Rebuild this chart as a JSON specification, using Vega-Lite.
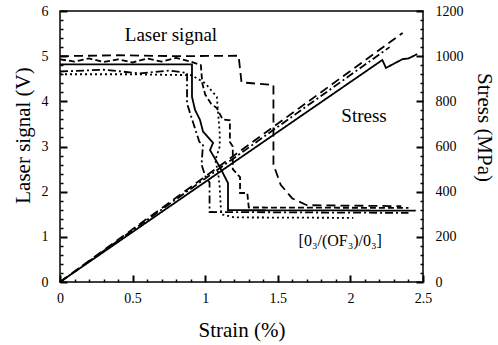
{
  "$schema": "https://vega.github.io/schema/vega-lite/v6.json",
  "width": 363,
  "height": 271,
  "autosize": "none",
  "padding": {"left": 60, "top": 11, "right": 75, "bottom": 63},
  "background": "white",
  "config": {
    "view": {"stroke": "black", "strokeWidth": 1.5},
    "font": "Liberation Serif",
    "axis": {"grid": false, "domain": false, "ticks": true, "tickColor": "black", "tickOpacity": 1, "tickWidth": 1.3, "labelColor": "black", "titleColor": "black", "labelFont": "Liberation Serif", "titleFont": "Liberation Serif", "labelFontSize": 14, "titleFontSize": 21, "titleFontWeight": "normal", "labelOverlap": false, "labelBound": false, "labelFlush": false, "zindex": 2}
  },
  "datasets": {
    "d": [
      {"k":"L","s":"A","st":"dash","i":0,"x":0,"y":5.0},
      {"k":"L","s":"A","st":"dash","i":1,"x":0.4,"y":5.02},
      {"k":"L","s":"A","st":"dash","i":2,"x":0.8,"y":5.0},
      {"k":"L","s":"A","st":"dash","i":3,"x":1.23,"y":5.01},
      {"k":"L","s":"A","st":"dash","i":4,"x":1.25,"y":4.42},
      {"k":"L","s":"A","st":"dash","i":5,"x":1.47,"y":4.36},
      {"k":"L","s":"A","st":"dash","i":6,"x":1.47,"y":2.6},
      {"k":"L","s":"A","st":"dash","i":7,"x":1.52,"y":2.15},
      {"k":"L","s":"A","st":"dash","i":8,"x":1.6,"y":1.85},
      {"k":"L","s":"A","st":"dash","i":9,"x":1.7,"y":1.7},
      {"k":"L","s":"A","st":"dash","i":10,"x":2.35,"y":1.68},

      {"k":"L","s":"B","st":"wavy","i":0,"x":0,"y":4.93},
      {"k":"L","s":"B","st":"wavy","i":1,"x":0.1,"y":4.88},
      {"k":"L","s":"B","st":"wavy","i":2,"x":0.2,"y":4.95},
      {"k":"L","s":"B","st":"wavy","i":3,"x":0.3,"y":4.87},
      {"k":"L","s":"B","st":"wavy","i":4,"x":0.4,"y":4.93},
      {"k":"L","s":"B","st":"wavy","i":5,"x":0.5,"y":4.86},
      {"k":"L","s":"B","st":"wavy","i":6,"x":0.6,"y":4.95},
      {"k":"L","s":"B","st":"wavy","i":7,"x":0.7,"y":4.88},
      {"k":"L","s":"B","st":"wavy","i":8,"x":0.8,"y":4.96},
      {"k":"L","s":"B","st":"wavy","i":9,"x":0.9,"y":4.88},
      {"k":"L","s":"B","st":"wavy","i":10,"x":0.97,"y":4.8},
      {"k":"L","s":"B","st":"wavy","i":11,"x":0.98,"y":4.4},
      {"k":"L","s":"B","st":"wavy","i":12,"x":1.0,"y":4.15},
      {"k":"L","s":"B","st":"wavy","i":13,"x":1.04,"y":3.95},
      {"k":"L","s":"B","st":"wavy","i":14,"x":1.08,"y":3.85},
      {"k":"L","s":"B","st":"wavy","i":15,"x":1.12,"y":3.6},
      {"k":"L","s":"B","st":"wavy","i":16,"x":1.17,"y":3.58},
      {"k":"L","s":"B","st":"wavy","i":17,"x":1.17,"y":3.1},
      {"k":"L","s":"B","st":"wavy","i":18,"x":1.19,"y":3.0},
      {"k":"L","s":"B","st":"wavy","i":19,"x":1.19,"y":2.5},
      {"k":"L","s":"B","st":"wavy","i":20,"x":1.24,"y":2.32},
      {"k":"L","s":"B","st":"wavy","i":21,"x":1.24,"y":1.97},
      {"k":"L","s":"B","st":"wavy","i":22,"x":1.29,"y":1.97},
      {"k":"L","s":"B","st":"wavy","i":23,"x":1.3,"y":1.65},
      {"k":"L","s":"B","st":"wavy","i":24,"x":2.4,"y":1.64},

      {"k":"L","s":"C","st":"solid","i":0,"x":0,"y":4.82},
      {"k":"L","s":"C","st":"solid","i":1,"x":0.5,"y":4.82},
      {"k":"L","s":"C","st":"solid","i":2,"x":0.909,"y":4.82},
      {"k":"L","s":"C","st":"solid","i":3,"x":0.909,"y":4.1},
      {"k":"L","s":"C","st":"solid","i":4,"x":0.93,"y":3.81},
      {"k":"L","s":"C","st":"solid","i":5,"x":0.964,"y":3.59},
      {"k":"L","s":"C","st":"solid","i":6,"x":0.985,"y":3.33},
      {"k":"L","s":"C","st":"solid","i":7,"x":1.054,"y":3.08},
      {"k":"L","s":"C","st":"solid","i":8,"x":1.033,"y":2.92},
      {"k":"L","s":"C","st":"solid","i":9,"x":1.1,"y":2.55},
      {"k":"L","s":"C","st":"solid","i":10,"x":1.157,"y":2.19},
      {"k":"L","s":"C","st":"solid","i":11,"x":1.157,"y":1.59},
      {"k":"L","s":"C","st":"solid","i":12,"x":2.45,"y":1.58},

      {"k":"L","s":"D","st":"dashdot","i":0,"x":0,"y":4.66},
      {"k":"L","s":"D","st":"dashdot","i":1,"x":0.3,"y":4.7},
      {"k":"L","s":"D","st":"dashdot","i":2,"x":0.55,"y":4.62},
      {"k":"L","s":"D","st":"dashdot","i":3,"x":0.75,"y":4.68},
      {"k":"L","s":"D","st":"dashdot","i":4,"x":0.875,"y":4.63},
      {"k":"L","s":"D","st":"dashdot","i":5,"x":0.875,"y":3.95},
      {"k":"L","s":"D","st":"dashdot","i":6,"x":0.92,"y":3.5},
      {"k":"L","s":"D","st":"dashdot","i":7,"x":0.96,"y":3.1},
      {"k":"L","s":"D","st":"dashdot","i":8,"x":0.985,"y":3.05},
      {"k":"L","s":"D","st":"dashdot","i":9,"x":0.975,"y":2.6},
      {"k":"L","s":"D","st":"dashdot","i":10,"x":1.0,"y":2.35},
      {"k":"L","s":"D","st":"dashdot","i":11,"x":1.03,"y":2.2},
      {"k":"L","s":"D","st":"dashdot","i":12,"x":1.03,"y":1.55},
      {"k":"L","s":"D","st":"dashdot","i":13,"x":2.4,"y":1.53},

      {"k":"L","s":"E","st":"dot","i":0,"x":0,"y":4.6},
      {"k":"L","s":"E","st":"dot","i":1,"x":0.45,"y":4.6},
      {"k":"L","s":"E","st":"dot","i":2,"x":0.9,"y":4.58},
      {"k":"L","s":"E","st":"dot","i":3,"x":0.95,"y":4.5},
      {"k":"L","s":"E","st":"dot","i":4,"x":1.0,"y":4.4},
      {"k":"L","s":"E","st":"dot","i":5,"x":1.08,"y":4.1},
      {"k":"L","s":"E","st":"dot","i":6,"x":1.09,"y":3.7},
      {"k":"L","s":"E","st":"dot","i":7,"x":1.1,"y":3.3},
      {"k":"L","s":"E","st":"dot","i":8,"x":1.1,"y":3.0},
      {"k":"L","s":"E","st":"dot","i":9,"x":1.07,"y":2.7},
      {"k":"L","s":"E","st":"dot","i":10,"x":1.09,"y":2.4},
      {"k":"L","s":"E","st":"dot","i":11,"x":1.1,"y":2.1},
      {"k":"L","s":"E","st":"dot","i":12,"x":1.11,"y":1.5},
      {"k":"L","s":"E","st":"dot","i":13,"x":1.2,"y":1.43},
      {"k":"L","s":"E","st":"dot","i":14,"x":2.02,"y":1.42},

      {"k":"S","s":"SS","st":"solid","i":0,"x":0,"y":0},
      {"k":"S","s":"SS","st":"solid","i":1,"x":1.0,"y":443},
      {"k":"S","s":"SS","st":"solid","i":2,"x":2.22,"y":983},
      {"k":"S","s":"SS","st":"solid","i":3,"x":2.245,"y":948},
      {"k":"S","s":"SS","st":"solid","i":4,"x":2.36,"y":987},
      {"k":"S","s":"SS","st":"solid","i":5,"x":2.4,"y":990},
      {"k":"S","s":"SS","st":"solid","i":6,"x":2.46,"y":1009},
      {"k":"S","s":"SD","st":"dash","i":0,"x":0,"y":0},
      {"k":"S","s":"SD","st":"dash","i":1,"x":2.36,"y":1103},
      {"k":"S","s":"SDD","st":"dashdot","i":0,"x":0,"y":0},
      {"k":"S","s":"SDD","st":"dashdot","i":1,"x":2.27,"y":1040}
    ],
    "t": [
      {"x":0.764,"y":5.47,"text":"Laser signal","sz":"big"},
      {"x":2.094,"y":3.67,"text":"Stress","sz":"big"},
      {"x":1.93,"y":0.9,"text":"[0₃/(OF₃)/0₃]","sz":"small"}
    ]
  },
  "layer": [
    {
      "layer": [
        {
          "data": {"name": "d"},
          "transform": [{"filter": "datum.k === 'L'"}],
          "mark": {"type": "line", "color": "black", "strokeWidth": 1.8},
          "encoding": {
            "x": {"field": "x", "type": "quantitative", "scale": {"domain": [0, 2.5], "nice": false},
              "axis": {"orient": "bottom", "title": "Strain (%)", "values": [0,0.5,1,1.5,2,2.5], "format": "~r",
                "tickSize": 7, "offset": -7, "labelPadding": 9, "tickColor": "black", "tickWidth": 2, "tickOpacity": 1,
                "titleBaseline": "middle", "titleY": 55}},
            "y": {"field": "y", "type": "quantitative", "scale": {"domain": [0, 6], "nice": false},
              "axis": {"orient": "left", "title": "Laser signal (V)", "values": [0,1,2,3,4,5,6], "format": "d",
                "tickSize": 7, "offset": -7, "labelPadding": 12, "tickColor": "black", "tickWidth": 2, "tickOpacity": 1,
                "titleBaseline": "middle", "titleAlign": "center", "titleX": -44, "titleY": 124}},
            "strokeDash": {"field": "st", "type": "nominal", "legend": null,
              "scale": {"domain": ["solid","dash","wavy","dashdot","dot"], "range": [[1,0],[9,5],[6,3],[8,3,2,3],[2,3]]}},
            "detail": {"field": "s"},
            "order": {"field": "i", "type": "quantitative"}
          }
        },
        {
          "data": {"name": "t"},
          "mark": {"type": "text", "font": "Liberation Serif", "color": "black", "align": "center", "baseline": "middle"},
          "encoding": {
            "x": {"field": "x", "type": "quantitative",
              "axis": {"orient": "bottom", "title": null, "labels": false, "tickColor": "black", "tickWidth": 1.5, "values": [0.1,0.2,0.3,0.4,0.6,0.7,0.8,0.9,1.1,1.2,1.3,1.4,1.6,1.7,1.8,1.9,2.1,2.2,2.3,2.4],
                "tickSize": 3, "offset": -3}},
            "y": {"field": "y", "type": "quantitative",
              "axis": {"orient": "left", "title": null, "labels": false, "tickColor": "black", "tickWidth": 1.5, "values": [0.2,0.4,0.6,0.8,1.2,1.4,1.6,1.8,2.2,2.4,2.6,2.8,3.2,3.4,3.6,3.8,4.2,4.4,4.6,4.8,5.2,5.4,5.6,5.8],
                "tickSize": 3, "offset": -3}},
            "text": {"field": "text"},
            "size": {"field": "sz", "type": "nominal", "legend": null, "scale": {"domain": ["big","small"], "range": [19, 16]}}
          }
        }
      ],
      "resolve": {"axis": {"x": "independent", "y": "independent"}}
    },
    {
      "layer": [
        {
          "data": {"name": "d"},
          "transform": [{"filter": "datum.k === 'S'"}],
          "mark": {"type": "line", "color": "black", "strokeWidth": 1.8},
          "encoding": {
            "x": {"field": "x", "type": "quantitative", "axis": null},
            "y": {"field": "y", "type": "quantitative", "scale": {"domain": [0, 1200], "nice": false},
              "axis": {"orient": "right", "title": "Stress (MPa)", "values": [0,200,400,600,800,1000,1200], "format": "d",
                "tickSize": 7, "offset": -7, "labelPadding": 12, "tickColor": "black", "tickWidth": 2, "tickOpacity": 1,
                "titleAngle": 90, "titleBaseline": "middle", "titleAlign": "center", "titleX": 67, "titleY": 116}},
            "strokeDash": {"field": "st", "type": "nominal", "legend": null},
            "detail": {"field": "s"},
            "order": {"field": "i", "type": "quantitative"}
          }
        },
        {
          "data": {"name": "d"},
          "transform": [{"filter": "datum.k === 'S'"}],
          "mark": {"type": "point", "opacity": 0},
          "encoding": {
            "x": {"field": "x", "type": "quantitative", "axis": null},
            "y": {"field": "y", "type": "quantitative",
              "axis": {"orient": "right", "title": null, "labels": false, "tickColor": "black", "tickWidth": 1.5, "values": [40,80,120,160,240,280,320,360,440,480,520,560,640,680,720,760,840,880,920,960,1040,1080,1120,1160],
                "tickSize": 3, "offset": -3}}
          }
        }
      ],
      "resolve": {"axis": {"y": "independent"}}
    }
  ],
  "resolve": {"scale": {"y": "independent"}}
}
